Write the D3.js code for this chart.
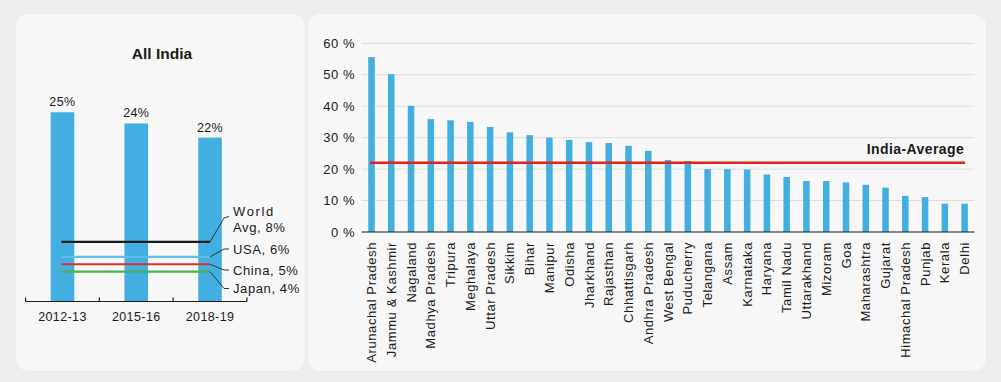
<!DOCTYPE html>
<html><head><meta charset="utf-8">
<script src="https://cdn.jsdelivr.net/npm/d3@7"></script>
<style>
html,body{margin:0;padding:0;background:#ededed;}
svg{display:block;font-family:"Liberation Sans",Arial,sans-serif;}
</style></head>
<body>
<svg id="chart" width="1001" height="382"></svg>
<script>
// ---------- Data ----------
const years = ["2012-13", "2015-16", "2018-19"];
const indiaValues = [25.4, 23.9, 22.0];
const benchmarkNames = ["World Avg", "USA", "China", "Japan"];
const benchmarkValues = [8, 6, 5, 4];
const benchmarkColors = ["#1a1a1a", "#5fbde8", "#e0302b", "#4cb24a"];

const states = ["Arunachal Pradesh","Jammu & Kashmir","Nagaland","Madhya Pradesh","Tripura","Meghalaya","Uttar Pradesh","Sikkim","Bihar","Manipur","Odisha","Jharkhand","Rajasthan","Chhattisgarh","Andhra Pradesh","West Bengal","Puducherry","Telangana","Assam","Karnataka","Haryana","Tamil Nadu","Uttarakhand","Mizoram","Goa","Maharashtra","Gujarat","Himachal Pradesh","Punjab","Kerala","Delhi"];
const stateValues = [55.6,50.2,40.1,35.9,35.5,35.0,33.4,31.7,30.8,30.0,29.3,28.6,28.3,27.4,25.8,22.9,22.6,20.0,20.0,19.9,18.3,17.5,16.2,16.2,15.8,15.0,14.1,11.5,11.1,9.0,9.0];
const indiaAverage = 22.0;
const yTicksRight = [0, 10, 20, 30, 40, 50, 60];

// ---------- Setup ----------
const svg = d3.select("#chart");
const barColor = "#43afe1";
const panelFill = "#f7f7f7";

svg.append("rect").attr("x", 16).attr("y", 14).attr("width", 289).attr("height", 357).attr("rx", 13).attr("fill", panelFill);
svg.append("rect").attr("x", 308).attr("y", 14).attr("width", 678).attr("height", 357).attr("rx", 13).attr("fill", panelFill);

// ---------- Left chart ----------
const L = svg.append("g");
const xL = d3.scaleBand().domain(years).range([25.6, 246.9]).padding(0);
const yL = d3.scaleLinear().domain([0, 30]).range([301.5, 301.5 - 223.5]);
const bwL = xL.bandwidth() * 0.32;

L.append("text").attr("x", 162).attr("y", 59).attr("text-anchor", "middle")
  .attr("font-weight", "bold").attr("font-size", 15.5).attr("fill", "#1a1a1a").text("All India");

L.selectAll("rect.bar").data(indiaValues).join("rect").attr("class", "bar")
  .attr("x", (d, i) => xL(years[i]) + xL.bandwidth() / 2 - bwL / 2)
  .attr("y", d => yL(d)).attr("width", bwL).attr("height", d => yL(0) - yL(d))
  .attr("fill", barColor);

L.selectAll("text.val").data(indiaValues).join("text").attr("class", "val")
  .attr("x", (d, i) => xL(years[i]) + xL.bandwidth() / 2)
  .attr("y", d => yL(d) - 6).attr("text-anchor", "middle")
  .attr("font-size", 12.5).attr("letter-spacing", 0.4).attr("fill", "#1a1a1a").text(d => Math.round(d) + "%");

// axis
const axL = d3.axisBottom(xL).tickSize(0).tickPadding(0);
const gAx = L.append("g").attr("transform", `translate(0,${yL(0)})`).call(axL);
gAx.select(".domain").remove();
gAx.selectAll("text").attr("font-size", 12.5).attr("fill", "#1a1a1a").attr("dy", 0).attr("y", 19)
  .attr("letter-spacing", 0.4).attr("font-family", "Liberation Sans, Arial, sans-serif");
L.append("line").attr("x1", xL.range()[0]).attr("x2", xL.range()[1])
  .attr("y1", yL(0)).attr("y2", yL(0)).attr("stroke", "#1a1a1a").attr("stroke-width", 1.2);
const boundaries = years.map(y => xL(y)).concat([xL.range()[1]]);
L.selectAll("line.tk").data(boundaries).join("line").attr("class", "tk")
  .attr("x1", d => d).attr("x2", d => d).attr("y1", yL(0) - 4).attr("y2", yL(0))
  .attr("stroke", "#1a1a1a").attr("stroke-width", 1.2);

// benchmark lines
const bx1 = xL(years[0]) + xL.bandwidth() / 2;
const bx2 = xL(years[2]) + xL.bandwidth() / 2;
L.selectAll("line.bm").data(benchmarkValues).join("line").attr("class", "bm")
  .attr("x1", bx1 - 1).attr("x2", bx2).attr("y1", d => yL(d)).attr("y2", d => yL(d))
  .attr("stroke", (d, i) => benchmarkColors[i]).attr("stroke-width", 2.2);

// leader lines + labels
const labelY = [216.5, 249, 270, 288.5];
L.selectAll("path.lead").data(benchmarkValues).join("path").attr("class", "lead")
  .attr("d", (d, i) => `M${bx2},${yL(d)} L${bx2 + 14},${labelY[i] + (i === 0 ? 1.5 : 0)} L${bx2 + 19},${labelY[i]}`)
  .attr("fill", "none").attr("stroke", "#333").attr("stroke-width", 1);
const lblX = bx2 + 23;
const lt = L.append("g").attr("font-size", 13).attr("fill", "#1a1a1a").attr("letter-spacing", 0.6);
lt.append("text").attr("x", lblX).attr("y", 216).attr("letter-spacing", 1.6).text("World");
lt.append("text").attr("x", lblX).attr("y", 231.5).text(benchmarkNames[0].split(" ")[1] + ", " + benchmarkValues[0] + "%");
for (let i = 1; i < 4; i++) {
  lt.append("text").attr("x", lblX).attr("y", labelY[i] + 4.5).text(benchmarkNames[i] + ", " + benchmarkValues[i] + "%");
}

// ---------- Right chart ----------
const R = svg.append("g");
const xR = d3.scaleBand().domain(states).range([361.6, 974.5]).padding(0);
const yR = d3.scaleLinear().domain([0, 60]).range([232, 43.3]);
const bwR = xR.bandwidth() * 0.33;

R.selectAll("line.grid").data(yTicksRight.slice(1)).join("line").attr("class", "grid")
  .attr("x1", xR.range()[0]).attr("x2", xR.range()[1]).attr("y1", d => yR(d)).attr("y2", d => yR(d))
  .attr("stroke", "#dcdcdc").attr("stroke-width", 1);

const ayR = d3.axisLeft(yR).tickValues(yTicksRight).tickSize(0).tickPadding(0).tickFormat(d => d + " %");
const gy = R.append("g").attr("transform", `translate(355,0)`).call(ayR);
gy.select(".domain").remove();
gy.selectAll("text").attr("font-size", 13).attr("letter-spacing", 0.5).attr("fill", "#1a1a1a").attr("font-family", "Liberation Sans, Arial, sans-serif");

R.selectAll("rect.bar").data(stateValues).join("rect").attr("class", "bar")
  .attr("x", (d, i) => xR(states[i]) + xR.bandwidth() / 2 - bwR / 2)
  .attr("y", d => yR(d)).attr("width", bwR).attr("height", d => yR(0) - yR(d))
  .attr("fill", barColor);

R.append("line").attr("x1", xR.range()[0]).attr("x2", xR.range()[1]).attr("y1", yR(0)).attr("y2", yR(0))
  .attr("stroke", "#1a1a1a").attr("stroke-width", 1.2);

const axR = d3.axisBottom(xR).tickSize(0).tickPadding(0);
const gx = R.append("g").attr("transform", `translate(0,${yR(0)})`).call(axR);
gx.select(".domain").remove();
gx.selectAll("text").attr("font-size", 13).attr("letter-spacing", 0.6).attr("fill", "#1a1a1a").attr("font-family", "Liberation Sans, Arial, sans-serif")
  .attr("text-anchor", "end").attr("transform", "rotate(-90)").attr("x", -10).attr("y", 0).attr("dy", "0.35em");

// India average line
R.append("line").attr("x1", xR(states[0]) + xR.bandwidth() / 2 - 1.5)
  .attr("x2", xR(states[states.length - 1]) + xR.bandwidth() / 2 + 0.5)
  .attr("y1", yR(indiaAverage)).attr("y2", yR(indiaAverage))
  .attr("stroke", "#e2231a").attr("stroke-width", 2.5);
R.append("text").attr("x", xR(states[states.length - 1]) + xR.bandwidth() / 2 - 0.5)
  .attr("y", yR(indiaAverage) - 9).attr("text-anchor", "end").attr("font-weight", "bold")
  .attr("font-size", 14).attr("letter-spacing", 0.4).attr("fill", "#1a1a1a").text("India-Average");
</script>
</body></html>
